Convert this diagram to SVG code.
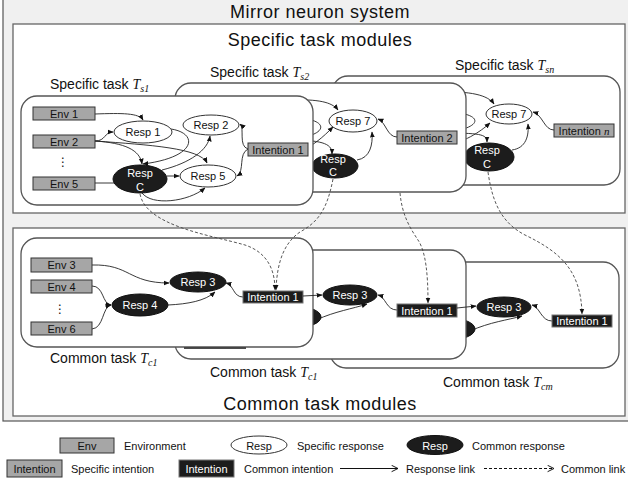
<svg xmlns="http://www.w3.org/2000/svg" width="628" height="481" viewBox="0 0 628 481">
<defs>
<marker id="ah" viewBox="0 0 10 10" refX="9" refY="5" markerWidth="6" markerHeight="6" markerUnits="userSpaceOnUse" orient="auto"><path d="M0,1 L10,5 L0,9 z" fill="#111"/></marker>
<marker id="oh" viewBox="0 0 10 10" refX="9" refY="5" markerWidth="8" markerHeight="8" markerUnits="userSpaceOnUse" orient="auto"><path d="M1,1 L9,5 L1,9" fill="none" stroke="#111" stroke-width="1.2"/></marker>
<style>
.box{fill:#fff;stroke:#555;stroke-width:1.3}
.mod{fill:#fff;stroke:#666;stroke-width:1.3}
.env{fill:#a6a6a6;stroke:#333;stroke-width:1}
.resp{fill:#fff;stroke:#333;stroke-width:1}
.cresp{fill:#1c1c1c;stroke:#111;stroke-width:1}
.cint{fill:#1c1c1c;stroke:#777;stroke-width:1}
.t{font-family:"Liberation Sans",Arial,sans-serif;font-size:11px;fill:#111;text-anchor:middle}
.tw{fill:#fff}
.lab{font-family:"Liberation Sans",Arial,sans-serif;font-size:14px;fill:#111}
.ti{font-family:"Liberation Serif","Times New Roman",serif;font-style:italic}
.big{font-family:"Liberation Sans",Arial,sans-serif;font-size:18px;letter-spacing:0.5px;fill:#111;text-anchor:middle}
.lg{font-family:"Liberation Sans",Arial,sans-serif;font-size:11px;fill:#111}
.dots{font-family:"DejaVu Sans",sans-serif;font-size:12px;fill:#111;text-anchor:middle}
.edge{fill:none;stroke:#222;stroke-width:0.9;marker-end:url(#ah)}
.line{fill:none;stroke:#222;stroke-width:0.9}
.dash{fill:none;stroke:#444;stroke-width:0.9;stroke-dasharray:3 2;marker-end:url(#ah)}
</style>
</defs>

<rect x="0" y="0" width="628" height="481" fill="#fff"/>
<rect x="3" y="-2" width="630" height="423" fill="#f0f0f0" stroke="#555" stroke-width="1.2"/>
<text class="big" x="320" y="18">Mirror neuron system</text>

<!-- Specific task modules -->
<g id="specific-modules">
<rect class="mod" x="13" y="24" width="612" height="189"/>
<text class="big" x="320" y="46">Specific task modules</text>
</g>

<!-- Task Tsn (back) -->
<g id="task-sn">
<rect class="box" x="332" y="76" width="288" height="109" rx="16"/>
<text class="lab" x="455" y="70">Specific task <tspan class="ti">T</tspan><tspan class="ti" font-size="10" dy="3">sn</tspan></text>
<g id="edges-sn">
<path class="edge" d="M440,92 C470,91 488,95 494,104"/>
<path class="line" d="M440,112 C485,111 488,129 440,133"/>
<path class="edge" d="M440,148 C465,142 480,132 490,123"/>
<path class="edge" d="M440,133 C480,133 487,134 487,142"/>
<path class="edge" d="M512,150 C526,148 529,136 528,124"/>
<path class="edge" d="M554,130 C544,130 543,115 533,112"/>
</g>
<g id="sn-resp7"><ellipse class="resp" cx="509" cy="114" rx="23" ry="10"/><text class="t" x="509" y="118">Resp 7</text></g>
<g id="sn-respc"><ellipse class="cresp" cx="489" cy="157" rx="25" ry="14"/><text class="t tw" x="487" y="154">Resp</text><text class="t tw" x="487" y="168">C</text></g>
<g id="sn-intn"><rect class="env" x="554" y="124" width="60" height="13"/><text class="t" x="584" y="134.5">Intention <tspan class="ti">n</tspan></text></g>
</g>

<!-- Task Ts2 -->
<g id="task-s2">
<rect class="box" x="175" y="83" width="291" height="109" rx="16"/>
<text class="lab" x="210" y="77">Specific task <tspan class="ti">T</tspan><tspan class="ti" font-size="10" dy="3">s2</tspan></text>
<g id="edges-s2">
<path class="edge" d="M290,100 C318,99 332,102 338,110"/>
<path class="line" d="M290,118 C330,117 332,136 290,139"/>
<path class="edge" d="M290,156 C312,148 324,136 333,127"/>
<path class="edge" d="M290,140 C326,140 332,145 332,154"/>
<path class="edge" d="M357,160 C370,158 373,145 372,132"/>
<path class="edge" d="M397,137 C387,137 386,122 378,119"/>
</g>
<g id="s2-resp7"><ellipse class="resp" cx="353" cy="121" rx="24" ry="11"/><text class="t" x="353" y="125">Resp 7</text></g>
<g id="s2-respc"><ellipse class="cresp" cx="335" cy="166" rx="23" ry="12"/><text class="t tw" x="333" y="163">Resp</text><text class="t tw" x="333" y="176">C</text></g>
<g id="s2-int2"><rect class="env" x="397" y="131" width="60" height="13"/><text class="t" x="427" y="141.5">Intention  2</text></g>
</g>

<!-- Task Ts1 (front) -->
<g id="task-s1">
<rect class="box" x="21" y="96" width="292" height="109" rx="16"/>
<text class="lab" x="50" y="89">Specific task <tspan class="ti">T</tspan><tspan class="ti" font-size="10" dy="3">s1</tspan></text>
<g id="edges-s1">
<path class="edge" d="M95,114 C122,113 139,113 143,120"/>
<path class="edge" d="M95,141 C106,141 104,132 113,132"/>
<path class="edge" d="M95,141 C125,143 140,150 142,164"/>
<path class="edge" d="M95,141 C150,145 200,148 207,163"/>
<path class="line" d="M95,183 L114,183"/>
<path class="edge" d="M171,129 C198,133 198,157 143,164"/>
<path class="edge" d="M162,170 C190,163 208,150 210,136"/>
<path class="edge" d="M167,176 L179,176"/>
<path class="edge" d="M142,193 C152,206 188,202 205,188"/>
<path class="edge" d="M248,149 C238,146 245,128 240,124"/>
<path class="edge" d="M248,149 C238,154 245,171 237,176"/>
</g>
<g id="s1-env1"><rect class="env" x="33" y="107" width="62" height="13"/><text class="t" x="64" y="117.5">Env 1</text></g>
<g id="s1-env2"><rect class="env" x="33" y="135" width="62" height="13"/><text class="t" x="64" y="145.5">Env 2</text></g>
<text class="dots" x="63" y="166">⋮</text>
<g id="s1-env5"><rect class="env" x="33" y="177" width="62" height="13"/><text class="t" x="64" y="187.5">Env 5</text></g>
<g id="s1-resp1"><ellipse class="resp" cx="143" cy="132" rx="29" ry="11"/><text class="t" x="143" y="136">Resp 1</text></g>
<g id="s1-resp2"><ellipse class="resp" cx="211" cy="125" rx="28" ry="10"/><text class="t" x="211" y="129">Resp 2</text></g>
<g id="s1-resp5"><ellipse class="resp" cx="208" cy="176" rx="28" ry="11"/><text class="t" x="208" y="180">Resp 5</text></g>
<g id="s1-respc"><ellipse class="cresp" cx="140" cy="179" rx="27" ry="14"/><text class="t tw" x="140" y="177">Resp</text><text class="t tw" x="140" y="191">C</text></g>
<g id="s1-int1"><rect class="env" x="248" y="143" width="60" height="13"/><text class="t" x="278" y="153.5">Intention 1</text></g>
</g>

<!-- Common task modules -->
<g id="common-modules">
<rect class="mod" x="13" y="228" width="612" height="188"/>
<text class="big" x="320" y="410">Common task modules</text>
</g>

<!-- Task Tcm (back) -->
<g id="task-cm">
<rect class="box" x="330" y="262" width="289" height="106" rx="16"/>
<text class="lab" x="443" y="387">Common task <tspan class="ti">T</tspan><tspan class="ti" font-size="10" dy="3">cm</tspan></text>
<g id="edges-cm">
<path class="edge" d="M470,331 C490,322 508,320 522,316"/>
<path class="edge" d="M552,321 C541,321 540,307 532,305"/>
</g>
<g id="cm-resp4"><ellipse class="cresp" cx="449" cy="329" rx="26" ry="11"/></g>
<g id="cm-resp3"><ellipse class="cresp" cx="504" cy="307" rx="27" ry="10"/><text class="t tw" x="504" y="311">Resp 3</text></g>
<g id="cm-int1"><rect class="cint" x="552" y="315" width="60" height="12"/><text class="t tw" x="582" y="325">Intention  1</text></g>
</g>

<!-- Task Tc1 (second) -->
<g id="task-c1b">
<rect class="box" x="175" y="250" width="291" height="109" rx="16"/>
<text class="lab" x="210" y="377">Common task <tspan class="ti">T</tspan><tspan class="ti" font-size="10" dy="3">c1</tspan></text>
<line x1="184" y1="347.5" x2="246" y2="347.5" stroke="#111" stroke-width="2.5"/>
<g id="edges-c1b">
<path class="edge" d="M316,320 C336,311 352,309 367,304"/>
<path class="edge" d="M397,310 C386,310 386,297 378,295"/>
</g>
<g id="c1b-resp4"><ellipse class="cresp" cx="294" cy="317" rx="27" ry="11"/></g>
<g id="c1b-resp3"><ellipse class="cresp" cx="350" cy="295" rx="27" ry="10"/><text class="t tw" x="350" y="299">Resp 3</text></g>
<g id="c1b-int1"><rect class="cint" x="397" y="304" width="60" height="13"/><text class="t tw" x="427" y="314.5">Intention  1</text></g>
</g>

<!-- Task Tc1 (front) -->
<g id="task-c1">
<rect class="box" x="21" y="238" width="292" height="109" rx="16"/>
<text class="lab" x="50" y="363">Common task <tspan class="ti">T</tspan><tspan class="ti" font-size="10" dy="3">c1</tspan></text>
<g id="edges-c1">
<path class="edge" d="M92,265 C130,264 128,283 169,283"/>
<path class="edge" d="M92,286 C104,286 102,304 111,305"/>
<path class="edge" d="M92,329 C104,328 102,307 111,305"/>
<path class="edge" d="M168,305 C188,304 205,301 215,292"/>
<path class="edge" d="M243,297 C233,297 234,285 226,283"/>
</g>
<g id="c1-env3"><rect class="env" x="31" y="258" width="61" height="14"/><text class="t" x="61.5" y="269">Env 3</text></g>
<g id="c1-env4"><rect class="env" x="31" y="280" width="61" height="13"/><text class="t" x="61.5" y="290.5">Env 4</text></g>
<text class="dots" x="60" y="313">⋮</text>
<g id="c1-env6"><rect class="env" x="31" y="322" width="61" height="13"/><text class="t" x="61.5" y="332.5">Env 6</text></g>
<g id="c1-resp3"><ellipse class="cresp" cx="198" cy="282" rx="28" ry="10"/><text class="t tw" x="198" y="286">Resp 3</text></g>
<g id="c1-resp4"><ellipse class="cresp" cx="140" cy="305" rx="28" ry="11"/><text class="t tw" x="140" y="309">Resp 4</text></g>
<g id="c1-int1"><rect class="cint" x="243" y="291" width="60" height="12"/><text class="t tw" x="273" y="301">Intention  1</text></g>
</g>

<!-- Cross-task connectors -->
<g id="connectors">
<path class="edge" d="M303,296 L322,295"/>
<path class="edge" d="M457,308 L476,306"/>
<path class="dash" d="M140,194 C146,226 210,235 245,245 C266,252 275,268 275,290"/>
<path class="dash" d="M333,179 C327,210 318,222 300,232 C284,243 277,262 276,290"/>
<path class="dash" d="M400,193 C402,215 410,228 418,240 C426,252 428,275 428,303"/>
<path class="dash" d="M488,172 C492,200 500,222 525,235 C560,252 581,270 582,314"/>
</g>

<!-- Legend -->
<g id="legend">
<g id="lg-env"><rect class="env" x="60" y="438" width="54" height="15"/><text class="t" x="87" y="449.5">Env</text><text class="lg" x="124" y="449.5">Environment</text></g>
<g id="lg-resp"><ellipse class="resp" cx="259" cy="445" rx="28" ry="9"/><text class="t" x="259" y="449.5">Resp</text><text class="lg" x="297" y="449.5">Specific response</text></g>
<g id="lg-cresp"><ellipse class="cresp" cx="435" cy="445" rx="28" ry="9.5"/><text class="t tw" x="435" y="449.5">Resp</text><text class="lg" x="472" y="449.5">Common response</text></g>
<g id="lg-int"><rect class="env" x="7" y="460" width="55" height="17"/><text class="t" x="34.5" y="472.5">Intention</text><text class="lg" x="71" y="472.5">Specific intention</text></g>
<g id="lg-cint"><rect class="cint" x="179" y="460" width="55" height="17"/><text class="t tw" x="206.5" y="472.5">Intention</text><text class="lg" x="244" y="472.5">Common intention</text></g>
<g id="lg-rlink"><line x1="340" y1="468.5" x2="398" y2="468.5" stroke="#111" stroke-width="1" marker-end="url(#oh)"/><text class="lg" x="406" y="472.5">Response link</text></g>
<g id="lg-clink"><line x1="484" y1="468.5" x2="554" y2="468.5" stroke="#111" stroke-width="1" stroke-dasharray="3 2" marker-end="url(#oh)"/><text class="lg" x="561" y="472.5">Common link</text></g>
</g>
</svg>
